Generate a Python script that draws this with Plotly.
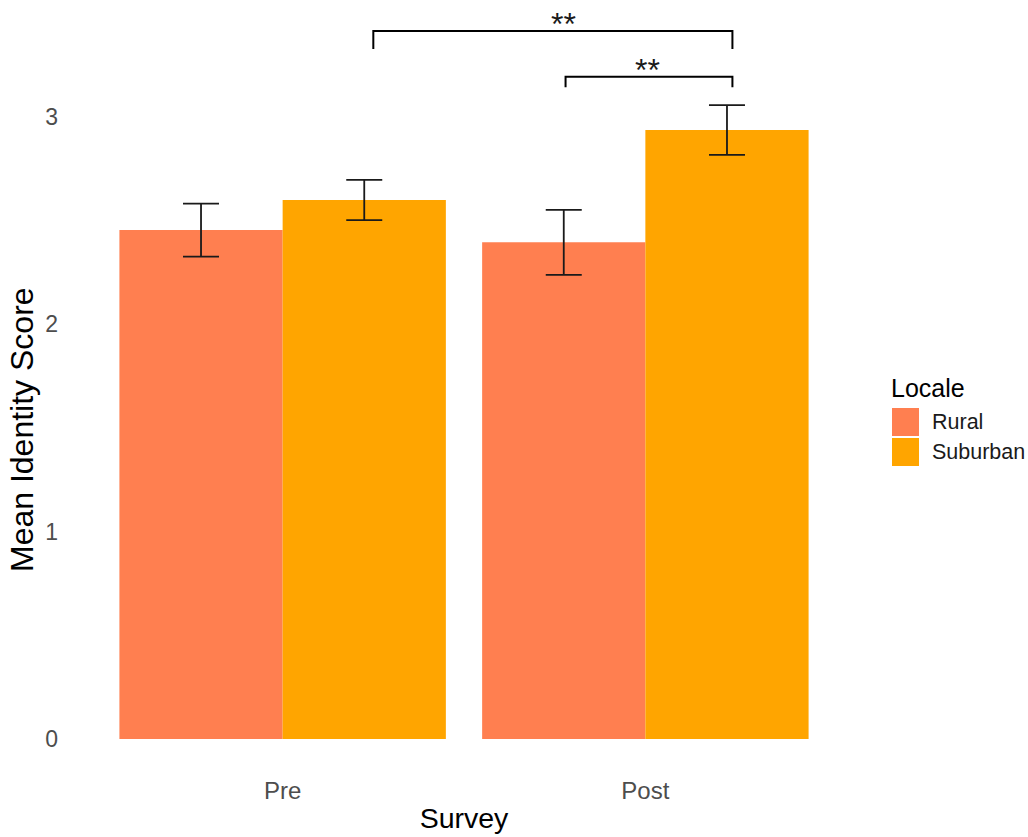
import plotly.graph_objects as go

# Survey results: mean identity score by survey wave and locale
surveys = ["Pre", "Post"]
locales = ["Rural", "Suburban"]
rural_means = [2.455, 2.396]
rural_se = [0.128, 0.157]
suburban_means = [2.600, 2.938]
suburban_se = [0.097, 0.120]

# Significance brackets: x start, x end, bar level, leg bottom, label, label x
bracket_x0 = [0.25, 0.78]
bracket_x1 = [1.24, 1.24]
bracket_top = [3.415, 3.195]
bracket_leg = [3.329, 3.144]
bracket_labels = ["**", "**"]
bracket_label_x = [0.775, 1.005]

colors = {"Rural": "#FF7F50", "Suburban": "#FFA500"}
font_family = "Liberation Sans, Arial, sans-serif"

W, H = 1028, 837
ML, MR, MT, MB = 65, 165, 5, 63

fig = go.Figure()
for name, means, se in [("Rural", rural_means, rural_se),
                        ("Suburban", suburban_means, suburban_se)]:
    fig.add_trace(go.Bar(
        name=name, x=surveys, y=means,
        marker=dict(color=colors[name], line=dict(width=0)),
        error_y=dict(type="data", array=se, visible=True,
                     color="#1a1a1a", thickness=1.8, width=18),
        showlegend=False,
    ))

# Brackets with significance stars
for x0, x1, yt, yl, lab, lx in zip(bracket_x0, bracket_x1, bracket_top,
                                   bracket_leg, bracket_labels,
                                   bracket_label_x):
    fig.add_trace(go.Scatter(
        x=[x0, x0, x1, x1], y=[yl, yt, yt, yl], mode="lines",
        line=dict(color="black", width=2), xaxis="x2", yaxis="y",
        showlegend=False, hoverinfo="skip",
    ))
    fig.add_annotation(x=lx, y=yt, xref="x2", yref="y",
                       text=lab, showarrow=False, yanchor="middle", yshift=7,
                       font=dict(family=font_family, size=32, color="#1a1a1a"))

pw = W - ML - MR
ph = H - MT - MB


def px_x(px):
    return (px - ML) / pw


def px_y(py):
    return (H - MB - py) / ph


# Y-axis title
fig.add_annotation(x=px_x(22), y=px_y(430), xref="paper", yref="paper",
                   text="Mean Identity Score", showarrow=False, textangle=-90,
                   xanchor="center", yanchor="middle",
                   font=dict(family=font_family, size=32, color="black"))

# Legend drawn as keys and labels beside the panel
fig.add_annotation(x=px_x(889), y=px_y(388), xref="paper", yref="paper",
                   text="Locale", showarrow=False, xanchor="left",
                   yanchor="middle",
                   font=dict(family=font_family, size=25, color="black"))
key_tops = [408, 438]
for name, top in zip(locales, key_tops):
    fig.add_shape(type="rect", xref="paper", yref="paper",
                  x0=px_x(892), x1=px_x(919), y0=px_y(top), y1=px_y(top + 28),
                  fillcolor=colors[name], line=dict(width=0))
    fig.add_annotation(x=px_x(930), y=px_y(top + 14), xref="paper",
                       yref="paper", text=name, showarrow=False,
                       xanchor="left", yanchor="middle",
                       font=dict(family=font_family, size=21.5,
                                 color="#1a1a1a"))

fig.update_layout(
    width=W, height=H,
    margin=dict(l=ML, r=MR, t=MT, b=MB),
    plot_bgcolor="white", paper_bgcolor="white",
    barmode="group", bargap=0.1, bargroupgap=0,
    font=dict(family=font_family),
    xaxis=dict(
        type="category", range=[-0.6, 1.6],
        showgrid=False, zeroline=False, showline=False, ticks="",
        tickfont=dict(size=24, color="#4d4d4d"),
        title=dict(text="Survey", font=dict(size=28.5, color="black"),
                   standoff=5),
    ),
    xaxis2=dict(range=[-0.6, 1.6], overlaying="x", visible=False),
    yaxis=dict(
        range=[-0.169, 3.541],
        tickvals=[0, 1, 2, 3], ticktext=["0", "1", "2", "3"],
        showgrid=False, zeroline=False, showline=False, ticks="",
        ticklabelstandoff=6,
        tickfont=dict(size=23, color="#4d4d4d"),
    ),
)

fig.write_html("out.html")
